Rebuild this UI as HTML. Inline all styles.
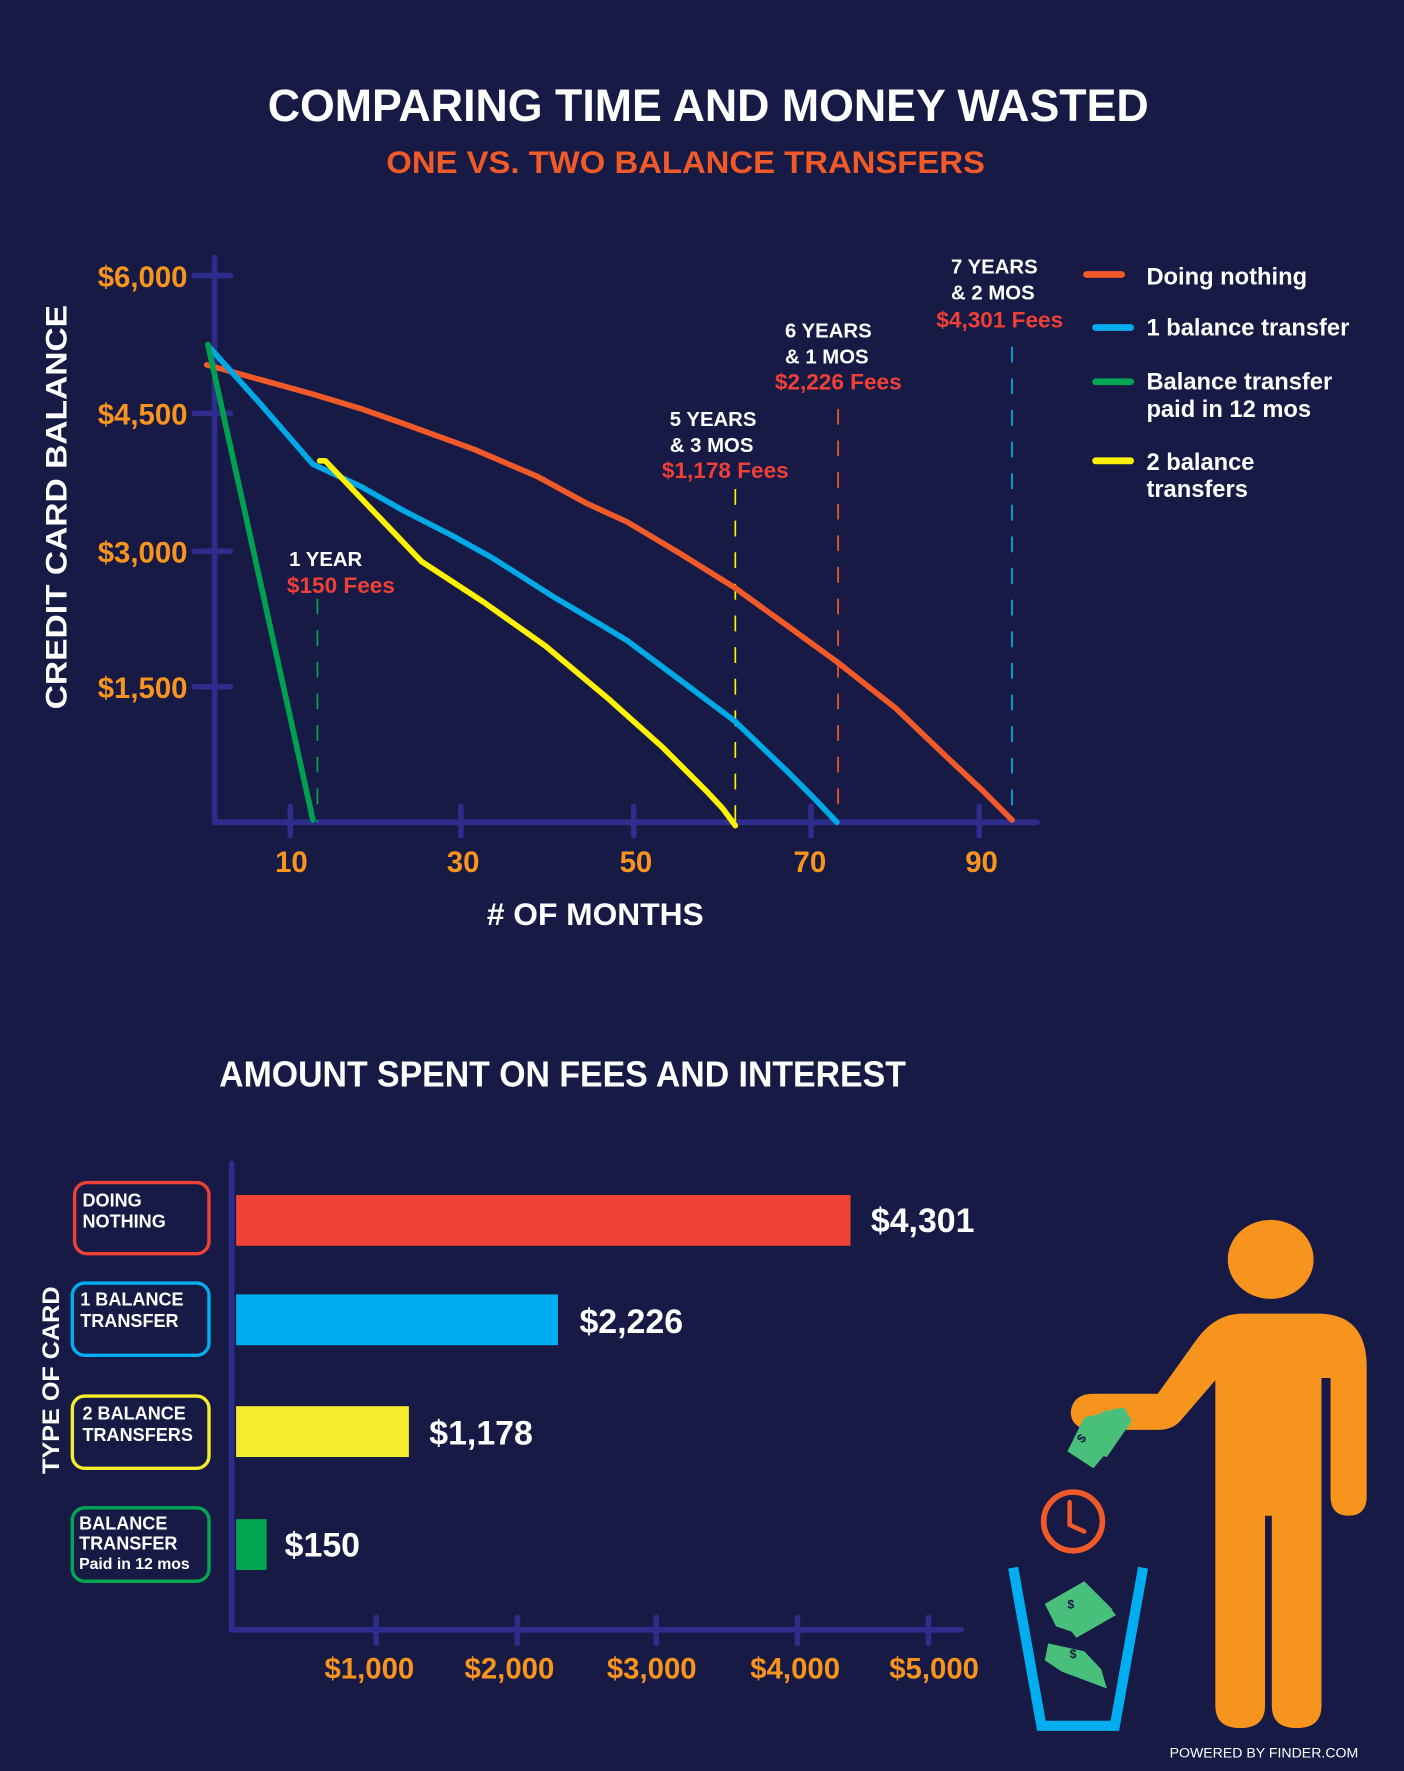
<!DOCTYPE html>
<html><head><meta charset="utf-8"><style>
html,body{margin:0;padding:0;background:#161a45;}
svg{display:block}
text{font-family:"Liberation Sans Narrow","Liberation Sans",sans-serif;font-weight:bold;}
</style></head><body>
<svg width="1404" height="1771" viewBox="0 0 1243 1568" xmlns="http://www.w3.org/2000/svg">
<rect width="1243" height="1568" fill="#161a45"/>
<text x="627" y="107" fill="#fff" font-size="40" text-anchor="middle" textLength="780" lengthAdjust="spacingAndGlyphs">COMPARING TIME AND MONEY WASTED</text>
<text x="607" y="153" fill="#f05a28" font-size="28" text-anchor="middle" textLength="530" lengthAdjust="spacingAndGlyphs">ONE VS. TWO BALANCE TRANSFERS</text>

<g stroke="#2f2d8c" stroke-width="5" stroke-linecap="round">
<line x1="190" y1="228" x2="190" y2="728"/>
<line x1="190" y1="728" x2="918" y2="728"/>
<line x1="172" y1="244" x2="204" y2="244"/>
<line x1="172" y1="366" x2="204" y2="366"/>
<line x1="172" y1="488" x2="204" y2="488"/>
<line x1="172" y1="608" x2="204" y2="608"/>
<line x1="257" y1="714" x2="257" y2="740"/>
<line x1="408" y1="714" x2="408" y2="740"/>
<line x1="561" y1="714" x2="561" y2="740"/>
<line x1="718" y1="714" x2="718" y2="740"/>
<line x1="867" y1="714" x2="867" y2="740"/>
</g>
<g fill="#f7941d" font-size="26" text-anchor="end">
<text x="166" y="254">$6,000</text><text x="166" y="376">$4,500</text><text x="166" y="498">$3,000</text><text x="166" y="618">$1,500</text>
</g>
<g fill="#f7941d" font-size="26" text-anchor="middle">
<text x="258" y="772">10</text><text x="410" y="772">30</text><text x="563" y="772">50</text><text x="717" y="772">70</text><text x="869" y="772">90</text>
</g>
<text x="527" y="819" fill="#fff" font-size="28" text-anchor="middle" textLength="192" lengthAdjust="spacingAndGlyphs"># OF MONTHS</text>
<text transform="translate(59,449) rotate(-90)" fill="#fff" font-size="26" text-anchor="middle" textLength="358" lengthAdjust="spacingAndGlyphs" style="font-family:'Liberation Sans',sans-serif">CREDIT CARD BALANCE</text>

<g stroke-width="1.5" stroke-dasharray="14,14">
<line x1="281" y1="530" x2="281" y2="728" stroke="#00a651"/>
<line x1="651" y1="433" x2="651" y2="728" stroke="#fff200"/>
<line x1="742" y1="362" x2="742" y2="728" stroke="#f05a28"/>
<line x1="896" y1="307" x2="896" y2="728" stroke="#00aeef"/>
</g>
<g fill="none" stroke-width="5" stroke-linejoin="round" stroke-linecap="round">
<polyline stroke="#f05a28" points="183,323 230,336 277,349 320,362 357,375 420,398 476,422 520,446 555,462 602,490 650,520 697,554 741,586 793,627 840,672 870,700 896,726"/>
<polyline stroke="#00a8e6" points="185,307 230,357 277,411 320,431 357,452 400,474 436,494 491,529 530,552 555,567 602,602 650,638 697,683 720,706 741,728"/>
<polyline stroke="#00a050" points="184,305 277,726"/>
<polyline stroke="#fff200" points="283,408 288,408 330,452 373,497 428,533 483,572 539,619 587,662 626,701 640,716 651,731"/>
</g>
<g font-size="18" fill="#fff" style="font-family:'Liberation Sans',sans-serif">
<text x="256" y="501">1 YEAR</text>
<text x="593" y="377">5 YEARS</text><text x="593" y="400">&amp; 3  MOS</text>
<text x="695" y="299">6 YEARS</text><text x="695" y="322">&amp; 1 MOS</text>
<text x="842" y="242">7 YEARS</text><text x="842" y="265">&amp; 2 MOS</text>
</g>
<g font-size="20" fill="#ee4036" style="font-family:'Liberation Sans',sans-serif">
<text x="254" y="525">$150 Fees</text>
<text x="586" y="423">$1,178 Fees</text>
<text x="686" y="345">$2,226 Fees</text>
<text x="829" y="290">$4,301 Fees</text>
</g>
<g stroke-width="6" stroke-linecap="round">
<line x1="962" y1="243" x2="993" y2="243" stroke="#f05a28"/>
<line x1="970" y1="290" x2="1001" y2="290" stroke="#00aeef"/>
<line x1="970" y1="338" x2="1001" y2="338" stroke="#00a651"/>
<line x1="970" y1="408" x2="1001" y2="408" stroke="#fff200"/>
</g>
<g fill="#fff" font-size="21" style="font-family:'Liberation Sans',sans-serif">
<text x="1015" y="252">Doing nothing</text>
<text x="1015" y="297">1 balance transfer</text>
<text x="1015" y="345">Balance transfer</text><text x="1015" y="369">paid in 12 mos</text>
<text x="1015" y="416">2 balance</text><text x="1015" y="440">transfers</text>
</g>

<text x="498" y="962" fill="#fff" font-size="32" text-anchor="middle" textLength="608" lengthAdjust="spacingAndGlyphs">AMOUNT SPENT ON FEES AND INTEREST</text>
<g stroke="#2f2d8c" stroke-width="5" stroke-linecap="round">
<line x1="205" y1="1030" x2="205" y2="1443"/>
<line x1="205" y1="1443" x2="851" y2="1443"/>
<line x1="333" y1="1432" x2="333" y2="1455"/>
<line x1="458" y1="1432" x2="458" y2="1455"/>
<line x1="581" y1="1432" x2="581" y2="1455"/>
<line x1="706" y1="1432" x2="706" y2="1455"/>
<line x1="822" y1="1432" x2="822" y2="1455"/>
</g>
<g fill="#f7941d" font-size="26" text-anchor="middle">
<text x="327" y="1486">$1,000</text><text x="451" y="1486">$2,000</text><text x="577" y="1486">$3,000</text><text x="704" y="1486">$4,000</text><text x="827" y="1486">$5,000</text>
</g>
<rect x="209" y="1058" width="544" height="45" fill="#ef4136"/>
<rect x="209" y="1146" width="285" height="45" fill="#00aeef"/>
<rect x="209" y="1245" width="153" height="45" fill="#f4ec2d"/>
<rect x="209" y="1345" width="27" height="45" fill="#00a651"/>
<g fill="#fff" font-size="30">
<text x="771" y="1091">$4,301</text><text x="513" y="1180">$2,226</text><text x="380" y="1279">$1,178</text><text x="252" y="1378">$150</text>
</g>
<g fill="none" stroke-width="3">
<rect x="66" y="1047" width="119" height="63" rx="11" stroke="#ef4136"/>
<rect x="64" y="1136" width="121" height="64" rx="11" stroke="#00aeef"/>
<rect x="64" y="1236" width="121" height="64" rx="11" stroke="#f4ec2d"/>
<rect x="64" y="1335" width="121" height="65" rx="11" stroke="#00a651"/>
</g>
<g fill="#fff" font-size="16" style="font-family:'Liberation Sans',sans-serif;font-weight:normal">
<text x="73" y="1068">DOING</text><text x="73" y="1087">NOTHING</text>
<text x="71" y="1156">1 BALANCE</text><text x="71" y="1175">TRANSFER</text>
<text x="73" y="1257">2 BALANCE</text><text x="73" y="1276">TRANSFERS</text>
<text x="70" y="1354">BALANCE</text><text x="70" y="1372">TRANSFER</text><text x="70" y="1389" font-size="14">Paid in 12 mos</text>
</g>
<text transform="translate(52,1222) rotate(-90)" fill="#fff" font-size="21" text-anchor="middle" textLength="166" lengthAdjust="spacingAndGlyphs" style="font-family:'Liberation Sans',sans-serif">TYPE OF CARD</text>

<g fill="#f7941d">
<ellipse cx="1125" cy="1115" rx="38" ry="35"/>
<path d="M1100,1163 L1170,1163 Q1210,1165 1210,1210 L1210,1325 Q1210,1342 1194,1342 Q1178,1342 1178,1325 L1178,1220 L1170,1220 L1170,1510 Q1170,1530 1148,1530 Q1126,1530 1126,1510 L1126,1342 L1120,1342 L1120,1510 Q1120,1530 1098,1530 Q1076,1530 1076,1510 L1076,1222 L1045,1258 Q1038,1266 1025,1266 L965,1266 Q948,1264 948,1250 Q950,1234 968,1234 L1025,1234 L1058,1188 Q1075,1163 1100,1163 Z"/>
</g>
<g fill="#48bf7b">
<polygon points="960,1255 990,1248 1000,1262 968,1300 945,1285"/>
<polygon points="975,1250 995,1246 1002,1258 980,1290 972,1288"/>
</g>
<text x="955" y="1277" fill="#161a45" font-size="11" transform="rotate(-50,958,1274)">$</text>
<circle cx="950" cy="1347" r="26" fill="none" stroke="#f05a28" stroke-width="5"/>
<polyline points="947,1330 947,1350 960,1356" fill="none" stroke="#f05a28" stroke-width="4" stroke-linecap="round"/>
<polyline points="897,1388 922,1528 987,1528 1012,1388" fill="none" stroke="#00aeef" stroke-width="9"/>
<g fill="#48bf7b">
<polygon points="925,1420 960,1400 985,1425 950,1445 935,1440"/>
<polygon points="945,1440 980,1420 988,1430 953,1450"/>
<polygon points="928,1455 960,1462 975,1478 980,1495 940,1480 925,1470"/>
</g>
<text x="945" y="1424" fill="#161a45" font-size="11">$</text>
<text x="947" y="1468" fill="#161a45" font-size="11">$</text>
<text x="1119" y="1556" fill="#fff" font-size="12.5" text-anchor="middle" style="font-family:'Liberation Sans',sans-serif;font-weight:normal">POWERED BY FINDER.COM</text>
</svg>
</body></html>
